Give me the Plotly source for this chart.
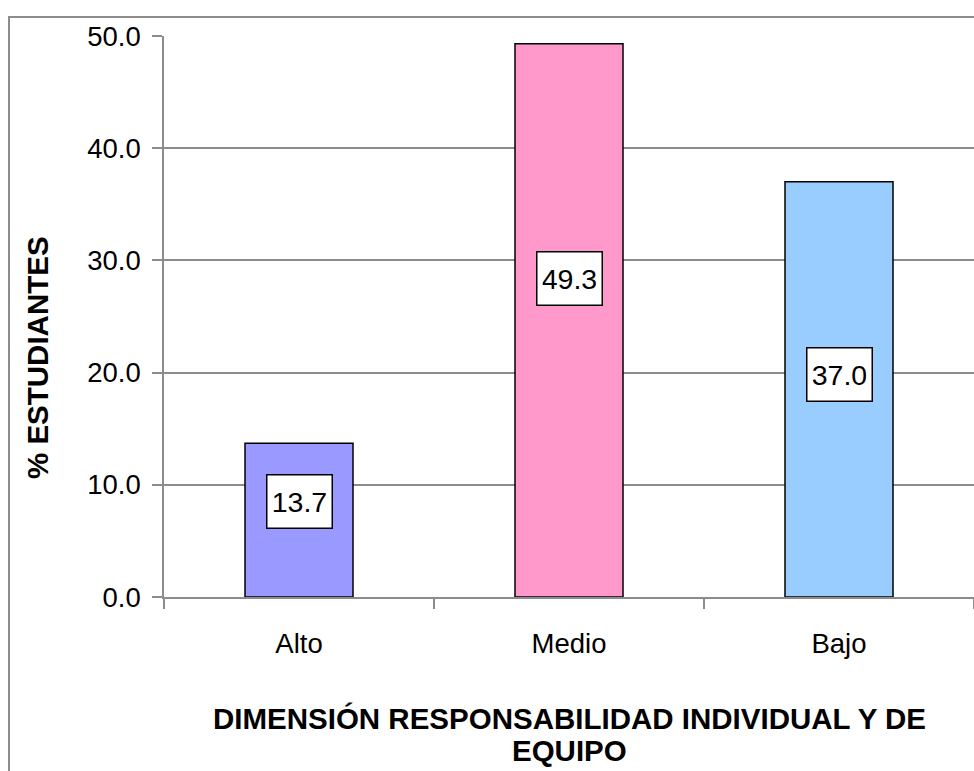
import plotly.graph_objects as go

categories = ["Alto", "Medio", "Bajo"]
values = [13.7, 49.3, 37.0]
bar_colors = ["#9999FF", "#FF99CC", "#99CCFF"]
label_y = [8.5, 28.4, 19.8]
y_ticks = [0, 10, 20, 30, 40, 50]
y_title = "% ESTUDIANTES"
x_title_lines = ["DIMENSIÓN RESPONSABILIDAD INDIVIDUAL Y DE", "EQUIPO"]

W, H = 974, 771
L, T, R, B = 164, 36, 0, 174
pw, ph = W - L - R, H - T - B

FONT = "Liberation Sans, Arial, sans-serif"
GRID = "#8c8c8c"

fig = go.Figure()
fig.add_trace(go.Bar(
    x=categories, y=values, width=0.4,
    marker=dict(color=bar_colors, line=dict(color="black", width=1.5)),
    hoverinfo="skip",
))

for c, v, ly in zip(categories, values, label_y):
    fig.add_annotation(
        x=c, y=ly, xref="x", yref="y", text=f"{v:.1f}", showarrow=False,
        font=dict(family=FONT, size=28.5, color="black"),
        bgcolor="white", bordercolor="black", borderwidth=1.5,
        borderpad=5, width=54, height=42,
    )

def px_to_paper_x(px):
    return (px - L) / pw

def px_to_paper_y(py):
    return (H - B - py) / ph

fig.add_annotation(
    x=px_to_paper_x(37), y=px_to_paper_y(357), xref="paper", yref="paper",
    text=f"<b>{y_title}</b>", textangle=-90, showarrow=False,
    font=dict(family=FONT, size=29.5, color="black"),
    xanchor="center", yanchor="middle",
)
for line, py in zip(x_title_lines, [718, 750]):
    fig.add_annotation(
        x=px_to_paper_x(569), y=px_to_paper_y(py), xref="paper", yref="paper",
        text=f"<b>{line}</b>", showarrow=False,
        font=dict(family=FONT, size=29.5, color="black"),
        xanchor="center", yanchor="middle",
    )

# outer chart frame
fig.add_shape(
    type="rect", xref="paper", yref="paper",
    x0=px_to_paper_x(9), x1=px_to_paper_x(990),
    y0=px_to_paper_y(790), y1=px_to_paper_y(17),
    line=dict(color="#8c8c8c", width=2), fillcolor="rgba(0,0,0,0)", layer="below",
)

fig.update_layout(
    width=W, height=H,
    margin=dict(l=L, t=T, r=R, b=B, pad=0),
    paper_bgcolor="white", plot_bgcolor="white",
    showlegend=False,
    font=dict(family=FONT, size=27.5, color="black"),
)
fig.update_xaxes(
    type="category", range=[-0.5, 2.5], tickson="boundaries",
    ticks="outside", ticklen=10, tickcolor=GRID, tickwidth=1.5,
    showline=True, linecolor=GRID, linewidth=1.5, showgrid=False,
    ticklabelstandoff=21, tickfont=dict(family=FONT, size=27.5),
)
fig.update_yaxes(
    range=[0, 50], tickvals=y_ticks, tickformat=".1f",
    ticks="outside", ticklen=10, tickcolor=GRID, tickwidth=1.5,
    showline=True, linecolor=GRID, linewidth=1.5,
    showgrid=True, gridcolor=GRID, gridwidth=1.5, zeroline=False,
    ticklabelstandoff=6, tickfont=dict(family=FONT, size=27.5),
)

fig.write_html(
    "out.html",
    config={"displayModeBar": False},
    post_script="document.body.style.margin='0';document.body.style.overflow='hidden';",
)
